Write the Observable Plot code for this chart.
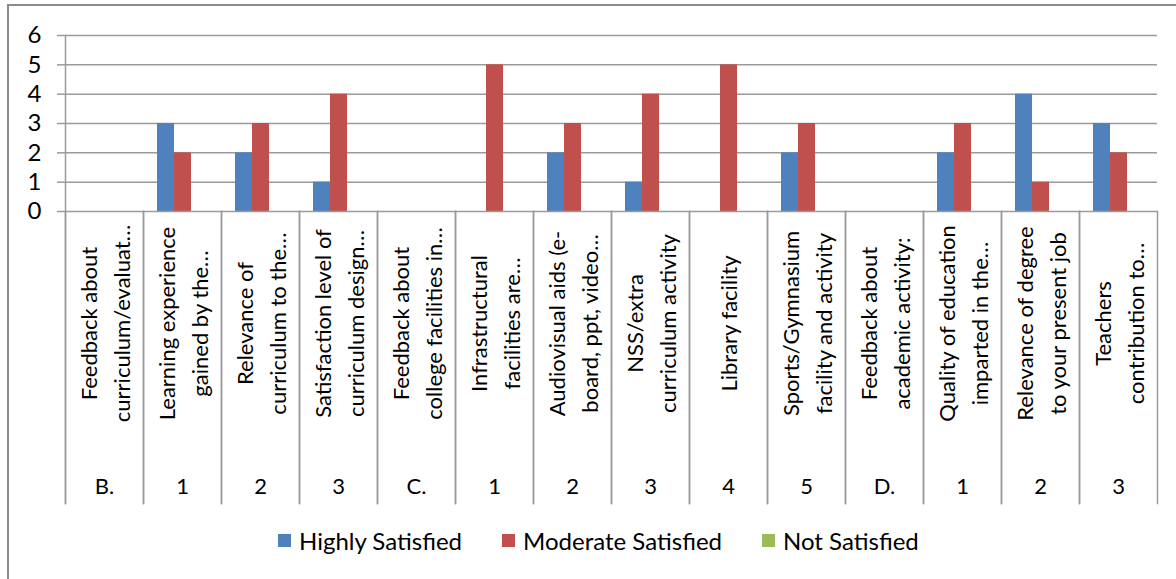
<!DOCTYPE html>
<html>
<head>
<meta charset="utf-8">
<script src="https://cdn.jsdelivr.net/npm/d3@7"></script>
<script src="https://cdn.jsdelivr.net/npm/@observablehq/plot@0.6"></script>
<style>
  html, body { margin: 0; padding: 0; background: #fff; }
  body { width: 1176px; height: 579px; position: relative; overflow: hidden; font-family: Lato, "Open Sans", sans-serif; }
  #border { position: absolute; left: 7px; top: 4px; width: 1200px; height: 600px; border: 2px solid #8c8c8c; box-sizing: border-box; }
  #chart { position: absolute; left: 0; top: 0; }
  #legend { position: absolute; top: 526px; left: 278px; display: flex; align-items: center; font-size: 24px; color: #000; white-space: nowrap; }
  .item { display: flex; align-items: center; margin-right: 40px; }
  .sw { width: 13px; height: 13px; margin-right: 8px; }
</style>
</head>
<body>
<div id="border"></div>
<div id="chart"></div>
<div id="legend"></div>
<script>
// ---- data ----
const groups = ["B.", "1", "2", "3", "C.", "1", "2", "3", "4", "5", "D.", "1", "2", "3"];
const questions = [
  "Feedback about\ncurriculum/evaluat…",
  "Learning experience\ngained by the…",
  "Relevance of\ncurriculum to the…",
  "Satisfaction level of\ncurriculum design…",
  "Feedback about\ncollege facilities in…",
  "Infrastructural\nfacilities are…",
  "Audiovisual aids (e-\nboard, ppt, video…",
  "NSS/extra\ncurriculum activity",
  "Library facility",
  "Sports/Gymnasium\nfacility and activity",
  "Feedback about\nacademic activity:",
  "Quality of education\nimparted in the…",
  "Relevance of degree\nto your present job",
  "Teachers\ncontribution to…"
];
const series = ["Highly Satisfied", "Moderate Satisfied", "Not Satisfied"];
const highlySatisfied  = [0, 3, 2, 1, 0, 0, 2, 1, 0, 2, 0, 2, 4, 3];
const moderateSatisfied = [0, 2, 3, 4, 0, 5, 3, 4, 5, 3, 0, 3, 1, 2];
const notSatisfied     = [0, 0, 0, 0, 0, 0, 0, 0, 0, 0, 0, 0, 0, 0];
const colors = ["#4F81BD", "#C0504D", "#9BBB59"];
const yTicks = [0, 1, 2, 3, 4, 5, 6];

// ---- tables built from the arrays ----
const cats = questions.map((q, i) => ({key: q, question: q, group: groups[i]}));
const seriesValues = [highlySatisfied, moderateSatisfied, notSatisfied];
const bars = [];
questions.forEach((q, i) => {
  series.forEach((s, j) => bars.push({key: q, series: s, value: seriesValues[j][i]}));
});

const gridColor = "#9a9a9a";
const fontSize = 22;

const chart = Plot.plot({
  width: 1176,
  height: 515,
  marginLeft: 63,
  marginRight: 17,
  marginTop: 35,
  marginBottom: 304,
  style: {fontFamily: "Lato, 'Open Sans', sans-serif", fontSize: fontSize + "px", color: "#000", background: "transparent", overflow: "visible"},
  fx: {domain: questions, padding: 0, axis: null},
  x: {domain: series, paddingInner: 0, paddingOuter: 0.75, axis: null},
  y: {domain: [0, 6], ticks: yTicks, axis: null},
  color: {domain: series, range: colors},
  marks: [
    Plot.gridY(yTicks.filter(d => d > 0), {stroke: gridColor, strokeOpacity: 1, strokeWidth: 1.5}),
    Plot.axisY(yTicks, {tickSize: 8, tickPadding: 16, stroke: gridColor, strokeOpacity: 1, strokeWidth: 1.5, fill: "#000", fontSize: 24, label: null}),
    Plot.barY(bars, {fx: "key", x: "series", y: "value", fill: "series"}),
    Plot.ruleY([0], {stroke: gridColor, strokeWidth: 1.5}),
    Plot.frame({anchor: "left", stroke: gridColor, strokeWidth: 1.5, insetTop: 176, insetBottom: -292}),
    Plot.frame({anchor: "right", stroke: gridColor, strokeWidth: 1.5, insetTop: 176, insetBottom: -292}),
    Plot.frame({anchor: "left", facetAnchor: "left", stroke: gridColor, strokeWidth: 1.5, insetBottom: -292}),
    Plot.text(cats, {fx: "key", text: "question", frameAnchor: "bottom", dy: 112, dx: -2, rotate: -90, textAnchor: "middle", lineAnchor: "middle", lineHeight: 1.5, fontSize: fontSize, fill: "#000"}),
    Plot.text(cats, {fx: "key", text: "group", frameAnchor: "bottom", dy: 275, lineAnchor: "middle", fontSize: fontSize, fill: "#000"})
  ]
});
document.getElementById("chart").appendChild(chart);

// ---- legend ----
const legend = document.getElementById("legend");
series.forEach((s, i) => {
  const item = document.createElement("div");
  item.className = "item";
  const sw = document.createElement("span");
  sw.className = "sw";
  sw.style.background = colors[i];
  const label = document.createElement("span");
  label.textContent = s;
  item.appendChild(sw);
  item.appendChild(label);
  legend.appendChild(item);
});
</script>
</body>
</html>
